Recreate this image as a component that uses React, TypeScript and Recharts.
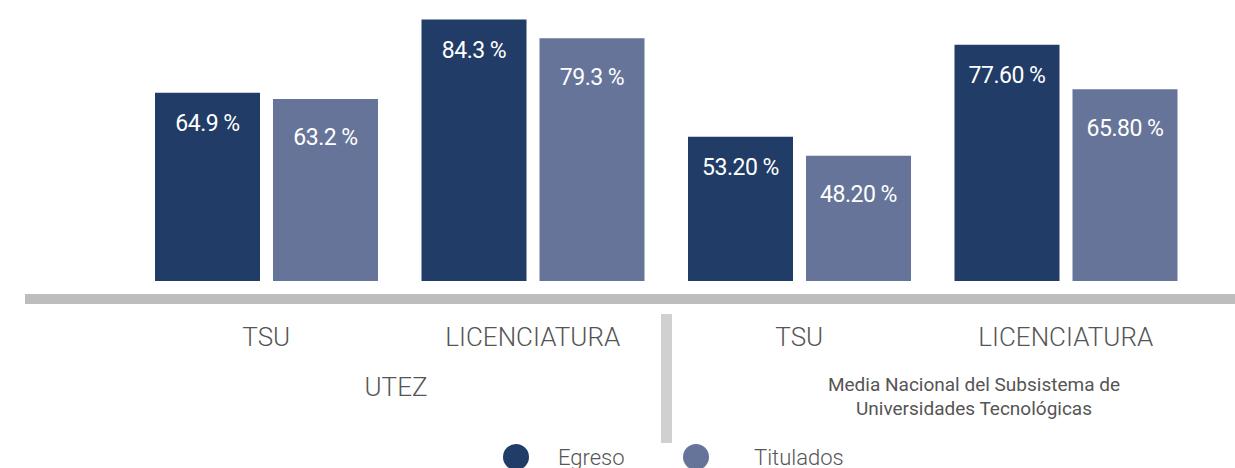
import { BarChart, Bar, XAxis, YAxis, LabelList, Legend } from "recharts";

const categories = ["TSU", "LICENCIATURA", "TSU ", "LICENCIATURA "];
const egreso = [64.9, 84.3, 53.2, 77.6];
const titulados = [63.2, 79.3, 48.2, 65.8];
const egresoLabels = ["64.9 %", "84.3 %", "53.20 %", "77.60 %"];
const tituladosLabels = ["63.2 %", "79.3 %", "48.20 %", "65.80 %"];

const DARK = "#203c67";
const LIGHT = "#66749a";
const FONT = "Roboto, 'Noto Sans', sans-serif";

const data = categories.map((name, i) => ({
  name,
  egreso: egreso[i],
  titulados: titulados[i],
  egresoLabel: egresoLabels[i],
  tituladosLabel: tituladosLabels[i],
}));

function CatTick(props: any) {
  const { x, y, payload } = props;
  return (
    <text
      x={x}
      y={y}
      dy={65}
      textAnchor="middle"
      fill="#555"
      fontSize={26}
      fontWeight={300}
      fontFamily={FONT}
    >
      {String(payload.value).trim()}
    </text>
  );
}

// gap circle -> text differs a bit between the two items in the original
const legendGaps = [29, 45];

function LegendContent(props: any) {
  const items = props.payload || [];
  return (
    <div style={{ display: "flex", paddingLeft: 503, fontFamily: FONT }}>
      {items.map((it: any, i: number) => (
        <div
          key={it.value}
          style={{ width: 180, display: "flex", alignItems: "center" }}
        >
          <span
            style={{
              width: 26,
              height: 26,
              borderRadius: 13,
              background: it.color,
              display: "inline-block",
              marginRight: legendGaps[i] ?? 36,
            }}
          />
          <span style={{ fontSize: 22, fontWeight: 300, color: "#555" }}>
            {it.value}
          </span>
        </div>
      ))}
    </div>
  );
}

export default function App() {
  return (
    <div
      style={{
        position: "absolute",
        left: 0,
        top: 0,
        width: 1235,
        height: 468,
        background: "#fff",
        overflow: "hidden",
      }}
    >
      <BarChart
        width={1235}
        height={468}
        data={data}
        margin={{ top: 13, right: 36, left: 133, bottom: 157 }}
        barSize={105}
        barGap={13}
      >
        <XAxis
          dataKey="name"
          axisLine={false}
          tickLine={false}
          tickSize={0}
          tickMargin={0}
          height={30}
          interval={0}
          tick={<CatTick />}
        />
        <YAxis hide domain={[15, 86]} />
        <Legend
          verticalAlign="middle"
          align="center"
          wrapperStyle={{ top: 444, left: 0, width: 1235 }}
          content={<LegendContent />}
        />
        <Bar dataKey="egreso" name="Egreso" fill={DARK} isAnimationActive={false}>
          <LabelList
            dataKey="egresoLabel"
            position="insideTop"
            offset={22}
            fill="#fff"
            fontSize={23}
            fontFamily={FONT}
            style={{ letterSpacing: -0.5 }}
          />
        </Bar>
        <Bar
          dataKey="titulados"
          name="Titulados"
          fill={LIGHT}
          isAnimationActive={false}
        >
          <LabelList
            dataKey="tituladosLabel"
            position="insideTop"
            offset={30}
            fill="#fff"
            fontSize={23}
            fontFamily={FONT}
            style={{ letterSpacing: -0.5 }}
          />
        </Bar>
      </BarChart>
      <div
        style={{
          position: "absolute",
          left: 25,
          top: 294,
          width: 1210,
          height: 10,
          background: "#bdbdbd",
        }}
      />
      <div
        style={{
          position: "absolute",
          left: 661,
          top: 314,
          width: 11,
          height: 129,
          background: "#d0d0d0",
        }}
      />
      <div
        style={{
          position: "absolute",
          left: 296,
          top: 372,
          width: 200,
          textAlign: "center",
          fontFamily: FONT,
          fontSize: 26,
          fontWeight: 300,
          color: "#555",
        }}
      >
        UTEZ
      </div>
      <div
        style={{
          position: "absolute",
          left: 774,
          top: 373,
          width: 400,
          textAlign: "center",
          fontFamily: FONT,
          fontSize: 19,
          lineHeight: "24px",
          color: "#555",
        }}
      >
        Media Nacional del Subsistema de
        <br />
        Universidades Tecnológicas
      </div>
    </div>
  );
}
